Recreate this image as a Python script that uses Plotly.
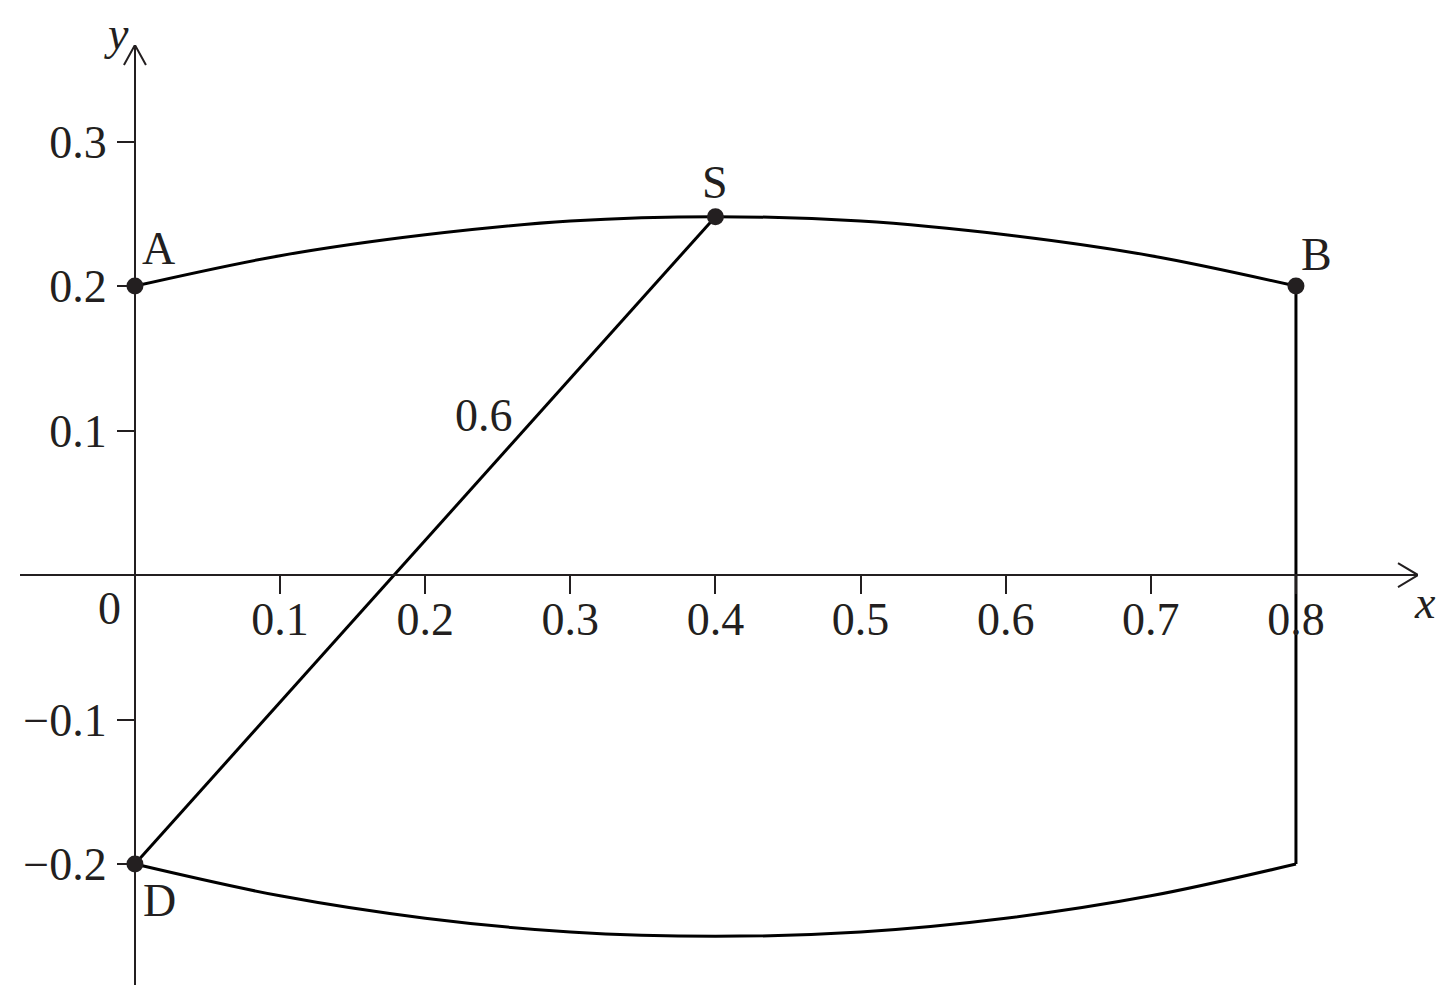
import plotly.graph_objects as go

# ---- data ----
curve_x = [0.0, 0.1, 0.2, 0.3, 0.4, 0.5, 0.6, 0.7, 0.8]
upper_y = [0.200, 0.221, 0.2355, 0.245, 0.248, 0.245, 0.2355, 0.221, 0.200]
lower_y = [-0.200, -0.222, -0.2375, -0.247, -0.250, -0.247, -0.2375, -0.222, -0.200]

point_names = ["A", "S", "B", "D"]
point_x = [0.0, 0.4, 0.8, 0.0]
point_y = [0.2, 0.248, 0.2, -0.2]

chord_x = [0.0, 0.4]
chord_y = [-0.2, 0.248]
chord_label = "0.6"
edge_x = [0.8, 0.8]
edge_y = [0.2, -0.2]

x_tick_vals = [0.1, 0.2, 0.3, 0.4, 0.5, 0.6, 0.7, 0.8]
x_tick_text = ["0.1", "0.2", "0.3", "0.4", "0.5", "0.6", "0.7", "0.8"]
y_tick_vals = [0.3, 0.2, 0.1, -0.1, -0.2]
y_tick_text = ["0.3", "0.2", "0.1", "\u22120.1", "\u22120.2"]

x_range = [-0.0792, 0.8841]
y_range = [-0.2837, 0.3668]

# ---- styling ----
INK = "#231f20"
FONT = "Liberation Serif"
FS = 46

fig = go.Figure()

line_style = dict(color="#000000", width=3)
fig.add_trace(go.Scatter(x=curve_x, y=upper_y, mode="lines", line=dict(**line_style, shape="spline"),
                         hoverinfo="skip", showlegend=False))
fig.add_trace(go.Scatter(x=curve_x, y=lower_y, mode="lines", line=dict(**line_style, shape="spline"),
                         hoverinfo="skip", showlegend=False))
fig.add_trace(go.Scatter(x=chord_x, y=chord_y, mode="lines", line=line_style,
                         hoverinfo="skip", showlegend=False))
fig.add_trace(go.Scatter(x=edge_x, y=edge_y, mode="lines", line=line_style,
                         hoverinfo="skip", showlegend=False))

# axis arrow chevrons (open heads) at the ends of the axes
ax_dx = 20 / 1451.25
ax_dy = 12 / 1445
ay_dx = 11 / 1451.25
ay_dy = 20 / 1445
fig.add_trace(go.Scatter(x=[x_range[1] - ax_dx, x_range[1], x_range[1] - ax_dx],
                         y=[ax_dy, 0, -ax_dy], mode="lines",
                         line=dict(color=INK, width=2), hoverinfo="skip", showlegend=False))
fig.add_trace(go.Scatter(x=[-ay_dx, 0, ay_dx],
                         y=[y_range[1] - ay_dy, y_range[1], y_range[1] - ay_dy], mode="lines",
                         line=dict(color=INK, width=2), hoverinfo="skip", showlegend=False))

# points
fig.add_trace(go.Scatter(x=point_x, y=point_y, mode="markers",
                         marker=dict(color=INK, size=17, line=dict(width=0)),
                         hoverinfo="skip", showlegend=False, cliponaxis=False))

# point labels
label_shift = {"A": (24, 38), "S": (0, 34), "B": (21, 32), "D": (25, -36)}
for name, px, py in zip(point_names, point_x, point_y):
    dx, dy = label_shift[name]
    fig.add_annotation(x=px, y=py, text=name, showarrow=False, xshift=dx, yshift=dy,
                       font=dict(family=FONT, size=FS, color=INK))

fig.add_annotation(x=0.2405, y=0.1107, text=chord_label, showarrow=False,
                   font=dict(family=FONT, size=FS, color=INK))
fig.add_annotation(x=0, y=0, text="0", showarrow=False, xshift=-25, yshift=-33,
                   font=dict(family=FONT, size=FS, color=INK))
fig.add_annotation(x=x_range[1], y=0, text="<i>x</i>", showarrow=False, xshift=7, yshift=-27,
                   font=dict(family=FONT, size=FS, color=INK))
fig.add_annotation(x=0, y=y_range[1], text="<i>y</i>", showarrow=False, xshift=-18, yshift=12,
                   font=dict(family=FONT, size=FS, color=INK))

x_pos = (0 - y_range[0]) / (y_range[1] - y_range[0])
y_pos = (0 - x_range[0]) / (x_range[1] - x_range[0])

fig.update_layout(
    width=1454, height=999,
    margin=dict(l=12, r=44, t=37, b=22, autoexpand=False),
    paper_bgcolor="white", plot_bgcolor="white",
    showlegend=False,
    xaxis=dict(range=x_range, anchor="free", position=x_pos, side="bottom",
               showline=True, linecolor=INK, linewidth=2,
               showgrid=False, zeroline=False, automargin=False,
               tickmode="array", tickvals=x_tick_vals, ticktext=x_tick_text,
               ticks="outside", ticklen=18, tickwidth=2, tickcolor=INK,
               ticklabelstandoff=-14,
               tickfont=dict(family=FONT, size=FS, color=INK), fixedrange=True),
    yaxis=dict(range=y_range, anchor="free", position=y_pos, side="left",
               showline=True, linecolor=INK, linewidth=2,
               showgrid=False, zeroline=False, automargin=False,
               tickmode="array", tickvals=y_tick_vals, ticktext=y_tick_text,
               ticks="outside", ticklen=17, tickwidth=2, tickcolor=INK,
               ticklabelstandoff=1,
               tickfont=dict(family=FONT, size=FS, color=INK), fixedrange=True),
)

fig.write_html("out.html")
